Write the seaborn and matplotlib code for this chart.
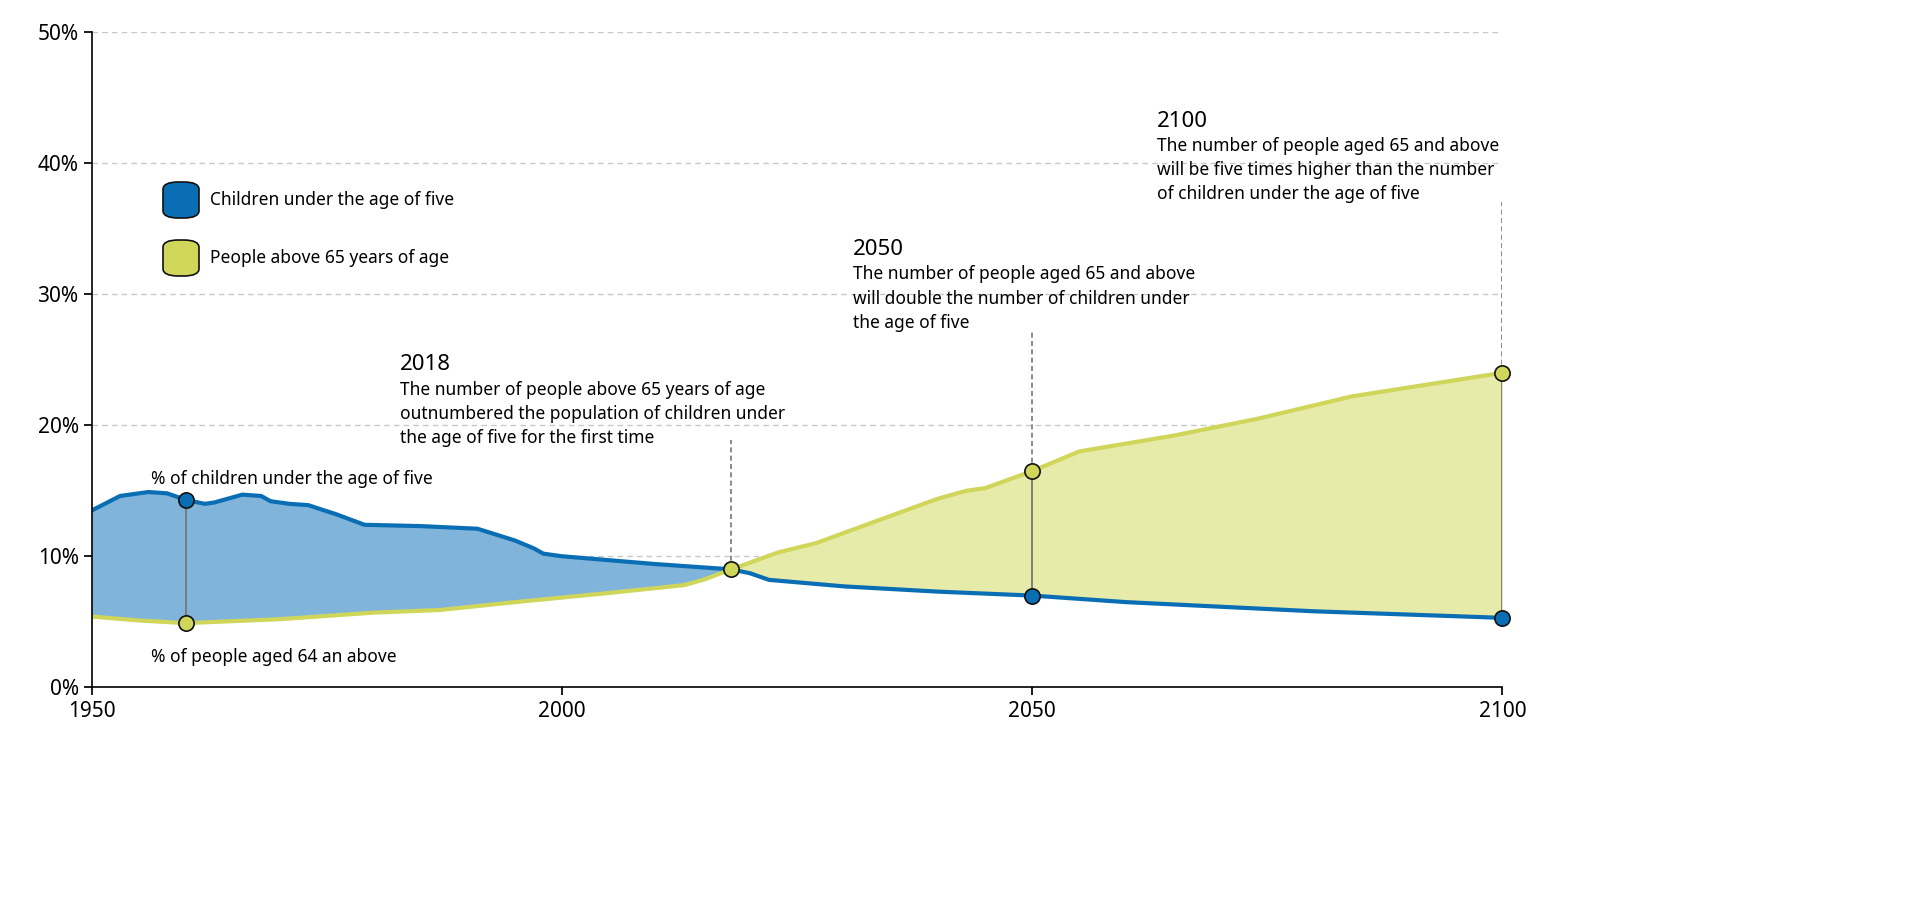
import matplotlib
matplotlib.use("Agg")
import matplotlib.pyplot as plt
import seaborn as sns
import numpy as np
import pandas as pd
from matplotlib.patches import FancyBboxPatch

child_years = [1950,1953,1956,1958,1960,1962,1963,1966,1968,1969,1971,1973,1976,1979,1985,1991,1995,1997,1998,2000,2010,2018,2020,2022,2030,2040,2050,2060,2080,2100]
child_vals  = [13.5,14.6,14.9,14.8,14.3,14.0,14.1,14.7,14.6,14.2,14.0,13.9,13.2,12.4,12.3,12.1,11.2,10.6,10.2,10.0,9.4,9.0,8.7,8.2,7.7,7.3,7.0,6.5,5.8,5.3]
old_years = [1950,1955,1960,1970,1980,1987,1995,2005,2013,2015,2018,2023,2027,2035,2040,2043,2045,2050,2055,2065,2074,2084,2100]
old_vals  = [5.4,5.1,4.9,5.2,5.7,5.9,6.5,7.2,7.8,8.2,9.0,10.3,11.0,13.1,14.4,15.0,15.2,16.5,18.0,19.2,20.5,22.2,24.0]
y_ticks = [0,10,20,30,40,50]
x_ticks = [1950,2000,2050,2100]

BLUE, BLUE_F = "#0a6eb4", "#80b4da"
GRN, GRN_F = "#cfd65a", "#e7eba9"

sns.set_theme(style="white")
plt.rcParams['font.family'] = ['Noto Sans', 'DejaVu Sans']
plt.rcParams['text.color'] = 'black'
plt.rcParams['xtick.color'] = 'black'
plt.rcParams['ytick.color'] = 'black'

fig = plt.figure(figsize=(19.14, 9.14), dpi=100)
ax = fig.add_axes([0.048, 0.248, 0.737, 0.717])

yy = np.arange(1950, 2100.01, 0.25)
c = np.interp(yy, child_years, child_vals)
o = np.interp(yy, old_years, old_vals)
ax.fill_between(yy, o, c, where=c >= o, color=BLUE_F, interpolate=True, lw=0)
ax.fill_between(yy, o, c, where=c <= o, color=GRN_F, interpolate=True, lw=0)
sns.lineplot(x=child_years, y=child_vals, ax=ax, color=BLUE, lw=3)
sns.lineplot(x=old_years, y=old_vals, ax=ax, color=GRN, lw=3)

for yr in [1960, 2050, 2100]:
    ax.plot([yr, yr], [np.interp(yr, child_years, child_vals), np.interp(yr, old_years, old_vals)],
            color="#777777", lw=1.3, zorder=3)
for yr, top in [(2018, 18.9), (2050, 27.2), (2100, 37.0)]:
    lo = max(np.interp(yr, child_years, child_vals), np.interp(yr, old_years, old_vals))
    ax.plot([yr, yr], [lo, top], color="#777777", lw=1.2, ls=(0, (3, 2)), zorder=3)

for yr in [1960, 2050, 2100]:
    ax.plot(yr, np.interp(yr, child_years, child_vals), 'o', ms=11, mfc=BLUE, mec="#111111", mew=1.2, zorder=5, clip_on=False)
for yr in [1960, 2018, 2050, 2100]:
    ax.plot(yr, np.interp(yr, old_years, old_vals), 'o', ms=11, mfc=GRN, mec="#111111", mew=1.2, zorder=5, clip_on=False)

ax.set_xlim(1950, 2100)
ax.set_ylim(0, 50)
ax.set_yticks(y_ticks)
ax.set_yticklabels([f"{v}%" for v in y_ticks])
ax.set_xticks(x_ticks)
ax.tick_params(labelsize=15, length=6, color="black", labelcolor="black", direction="out", left=True, bottom=True)
ax.yaxis.grid(True, color="#c8c8c8", ls=(0, (4, 3)), lw=1)
ax.set_axisbelow(True)
for s in ["top", "right"]:
    ax.spines[s].set_visible(False)
for s in ["left", "bottom"]:
    ax.spines[s].set_color("black")
    ax.spines[s].set_linewidth(1.2)

ax.text(1956.3, 15.9, "% of children under the age of five", fontsize=12.5, va="center")
ax.text(1956.3, 2.3, "% of people aged 64 an above", fontsize=12.5, va="center")
notes = [
    (1982.8, 25.4, "2018", "The number of people above 65 years of age\noutnumbered the population of children under\nthe age of five for the first time"),
    (2030.9, 34.2, "2050", "The number of people aged 65 and above\nwill double the number of children under\nthe age of five"),
    (2063.3, 44.0, "2100", "The number of people aged 65 and above\nwill be five times higher than the number\nof children under the age of five"),
]
for x, y, t, b in notes:
    ax.text(x, y, t, fontsize=16, va="top")
    ax.text(x, y - 2.0, b, fontsize=12.5, va="top", linespacing=1.45)

for i, (col, lab) in enumerate([(BLUE, "Children under the age of five"), (GRN, "People above 65 years of age")]):
    ytop = 1 - (182 + i * 58) / 914
    p = FancyBboxPatch((163 / 1914, ytop - 36 / 914), 36 / 1914, 36 / 914,
                       boxstyle="round,pad=0,rounding_size=0.008", transform=fig.transFigure,
                       fc=col, ec="#111111", lw=1.2)
    fig.patches.append(p)
    fig.text(210 / 1914, ytop - 18 / 914, lab, fontsize=12.5, va="center")

fig.savefig("out.png", dpi=100)
